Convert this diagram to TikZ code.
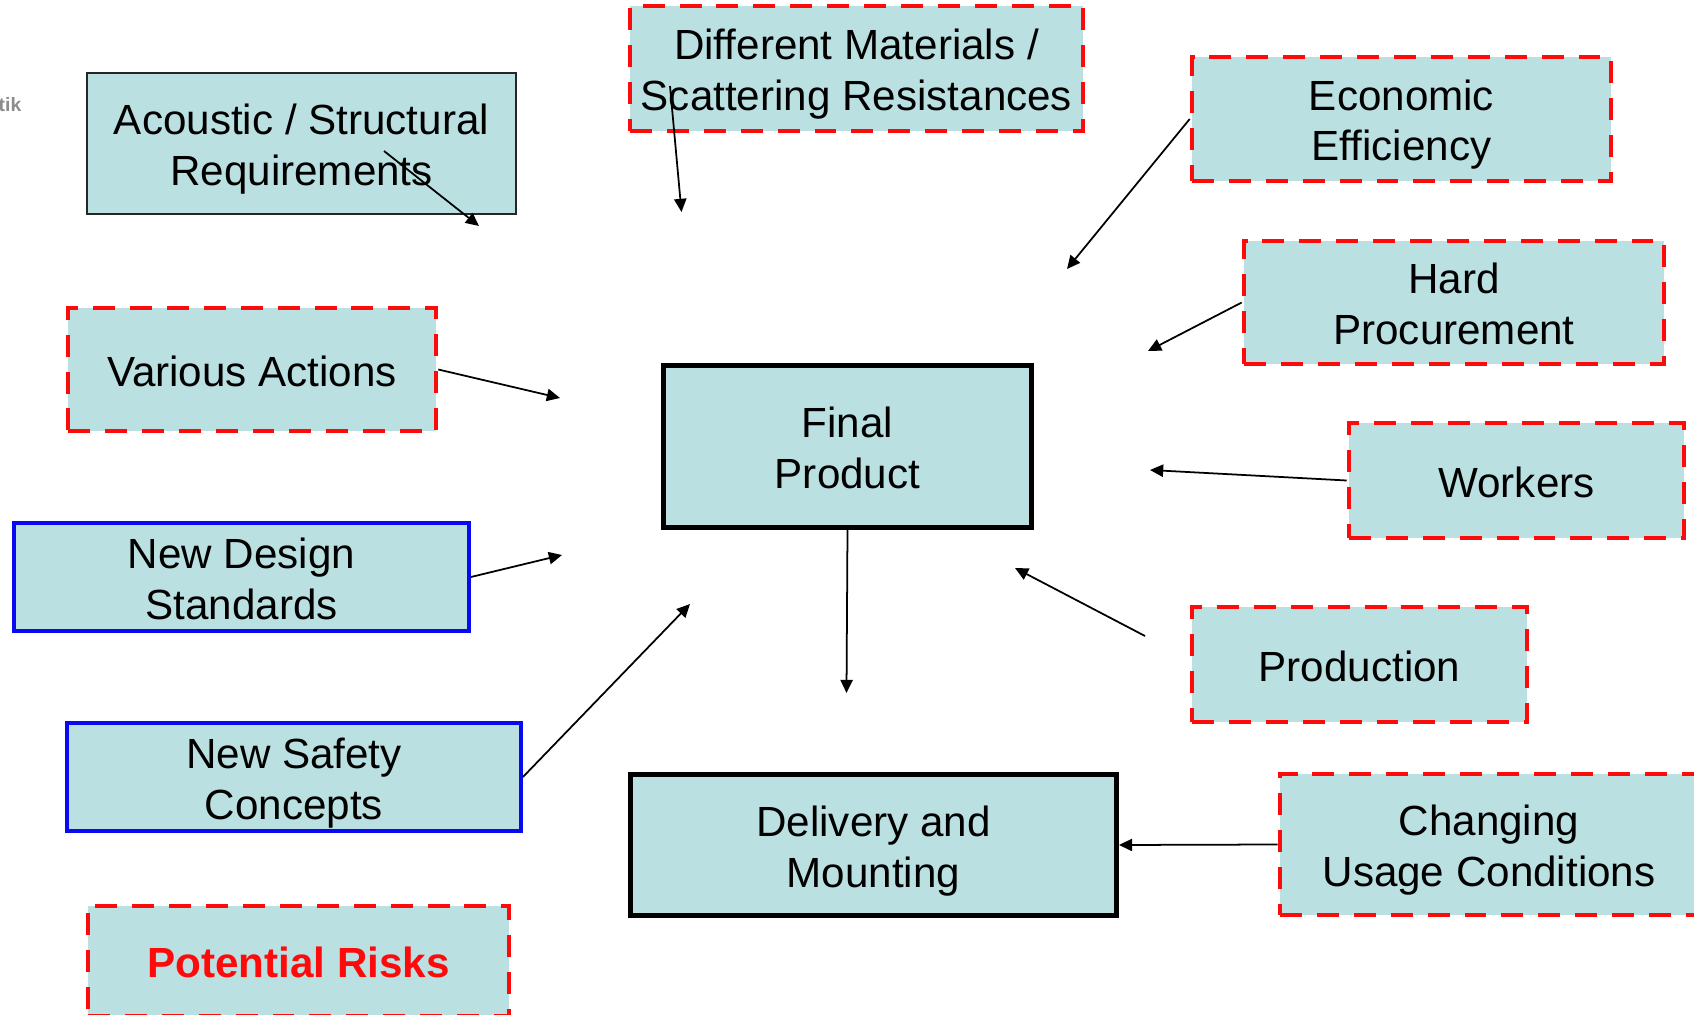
\documentclass[tikz,border=0pt]{standalone}
\usepackage{fontspec}
\setmainfont{Liberation Sans}
\usetikzlibrary{arrows.meta,positioning}
\definecolor{boxfill}{HTML}{BAE0E2}
\definecolor{riskred}{HTML}{FF0A0A}
\definecolor{normblue}{HTML}{0A0AF0}
\definecolor{taggray}{HTML}{8C8C8C}
\tikzset{
  topic/.style={rectangle,fill=boxfill,align=center,inner sep=0pt,
                font=\fontsize{24}{29}\selectfont,text=black,
                text height=23.9pt,text depth=5.1pt},
  pair/.style={text height=52.9pt},
  plainbox/.style={topic,draw=black!85,line width=1.1pt},
  corebox/.style={topic,draw=black,line width=2.6pt},
  riskbox/.style={topic,draw=riskred,line width=2.6pt,dash pattern=on 12.5pt off 8.5pt},
  normbox/.style={topic,draw=normblue,line width=2.5pt},
  link/.style={-{Triangle[length=7.5pt,width=7pt]},line width=1pt,draw=black},
}

\begin{document}
\begin{tikzpicture}
  \useasboundingbox (0,0) rectangle (33.88,-20.3);
  \node[text=taggray,font=\fontsize{11}{13}\selectfont\bfseries,anchor=east] (tag) at (0.55,-2.1) {tik};

  \node[plainbox,pair,minimum width=8.58cm,minimum height=2.82cm] (acoustic) at (6.03,-2.87) {Acoustic / Structural\\Requirements};
  \node[riskbox,pair,minimum width=9.06cm,minimum height=2.5cm] (materials) at (17.13,-1.37) {Different Materials /\\Scattering Resistances};
  \node[riskbox,pair,minimum width=8.38cm,minimum height=2.48cm] (economic) at (28.03,-2.38) {Economic\\Efficiency};
  \node[riskbox,pair,minimum width=8.4cm,minimum height=2.46cm] (procurement) at (29.08,-6.05) {Hard\\Procurement};
  \node[riskbox,minimum width=7.36cm,minimum height=2.46cm] (actions) at (5.04,-7.39) {Various Actions};
  \node[corebox,pair,minimum width=7.37cm,minimum height=3.25cm] (final) at (16.95,-8.93) {Final\\Product};
  \node[riskbox,minimum width=6.7cm,minimum height=2.3cm] (workers) at (30.33,-9.61) {Workers};
  \node[riskbox,minimum width=6.7cm,minimum height=2.3cm] (production) at (27.19,-13.29) {Production};
  \node[normbox,pair,minimum width=9.09cm,minimum height=2.15cm] (design) at (4.83,-11.54) {New Design\\Standards};
  \node[normbox,pair,minimum width=9.07cm,minimum height=2.15cm] (safety) at (5.88,-15.54) {New Safety\\Concepts};
  \node[riskbox,minimum width=8.42cm,minimum height=2.2cm,text=riskred,
        font=\fontsize{24}{29}\selectfont\bfseries] (risks) at (5.97,-19.22) {Potential Risks};
  \node[corebox,pair,minimum width=9.73cm,minimum height=2.83cm] (delivery) at (17.47,-16.9) {Delivery and\\Mounting};
  \node[riskbox,pair,minimum width=8.36cm,minimum height=2.82cm] (changing) at (29.78,-16.89) {Changing\\Usage Conditions};

  \coordinate (acousticTail) at (7.68,-3.02);
  \coordinate (acousticTip) at (9.58,-4.52);
  \coordinate (materialsTail) at (13.4,-1.72);
  \coordinate (materialsTip) at (13.63,-4.24);
  \coordinate (economicTip) at (21.34,-5.38);
  \coordinate (procurementTip) at (22.96,-7.02);
  \coordinate (actionsTip) at (11.2,-7.96);
  \coordinate (designTip) at (11.24,-11.1);
  \coordinate (safetyTip) at (13.8,-12.08);
  \coordinate (workersTip) at (23.0,-9.4);
  \coordinate (productionTail) at (22.9,-12.72);
  \coordinate (productionTip) at (20.3,-11.36);
  \coordinate (finalTip) at (16.93,-13.86);

  \draw[link] (acousticTail) -- (acousticTip);
  \draw[link] (materialsTail) -- (materialsTip);
  \draw[link] (economic.west) -- (economicTip);
  \draw[link] (procurement.west) -- (procurementTip);
  \draw[link] (actions.east) -- (actionsTip);
  \draw[link] (design.east) -- (designTip);
  \draw[link] (safety.east) -- (safetyTip);
  \draw[link] (workers.west) -- (workersTip);
  \draw[link] (productionTail) -- (productionTip);
  \draw[link] (final.south) -- (finalTip);
  \draw[link] (changing.west) -- (delivery.east);
\end{tikzpicture}
\end{document}
